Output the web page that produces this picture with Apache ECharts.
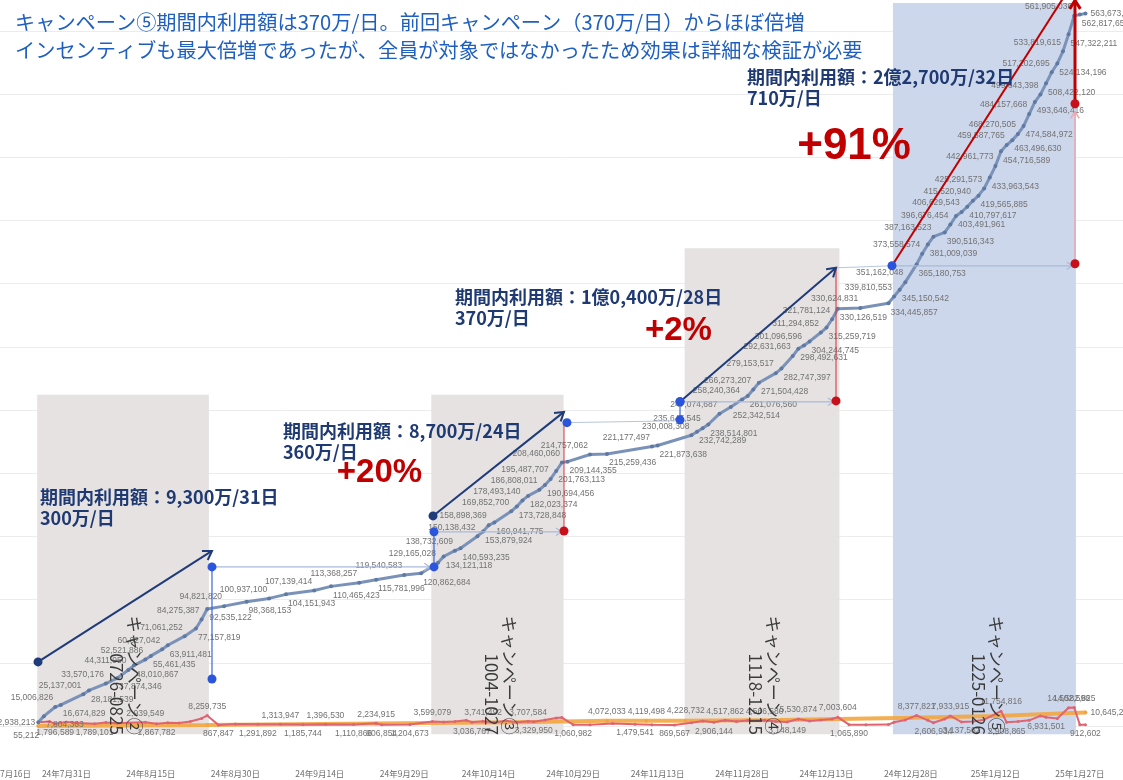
<!DOCTYPE html>
<html lang="ja">
<head>
<meta charset="utf-8">
<title>キャンペーン期間内利用額</title>
<script src="https://cdn.jsdelivr.net/npm/echarts@6/dist/echarts.min.js"></script>
<style>
html,body{margin:0;padding:0;background:#ffffff;}
#chart{width:1123px;height:780px;}
</style>
</head>
<body>
<div id="chart"></div>
<script>
// ================= DATA =================
const axisStartDate = '2024-07-16';
const axisTickDays = 15;
const axisEndDay = 210;

const titleLines = [
  'キャンペーン⑤期間内利用額は370万/日。前回キャンペーン（370万/日）からほぼ倍増',
  'インセンティブも最大倍増であったが、全員が対象ではなかったため効果は詳細な検証が必要'
];

// cumulative usage (labelled points)
const cumDates = [
  '2024-07-26','2024-07-27','2024-07-29','2024-07-30','2024-08-03','2024-08-04','2024-08-07','2024-08-09',
  '2024-08-11','2024-08-12','2024-08-14','2024-08-15','2024-08-17','2024-08-18','2024-08-21','2024-08-23',
  '2024-08-24','2024-08-25','2024-08-28','2024-09-01','2024-09-05','2024-09-08','2024-09-13','2024-09-16',
  '2024-09-21','2024-09-24','2024-09-29','2024-10-02','2024-10-05','2024-10-06','2024-10-08','2024-10-09',
  '2024-10-12','2024-10-13','2024-10-14','2024-10-15','2024-10-18','2024-10-19','2024-10-20','2024-10-21',
  '2024-10-23','2024-10-24','2024-10-25','2024-10-26','2024-10-27','2024-10-28','2024-11-01','2024-11-04',
  '2024-11-12','2024-11-13','2024-11-19','2024-11-20','2024-11-21','2024-11-22','2024-11-24','2024-11-26',
  '2024-11-28','2024-11-29','2024-11-30','2024-12-01','2024-12-04','2024-12-05','2024-12-07','2024-12-08',
  '2024-12-09','2024-12-10','2024-12-12','2024-12-13','2024-12-14','2024-12-15','2024-12-19','2024-12-24',
  '2024-12-25','2024-12-26','2024-12-27','2024-12-29','2024-12-30','2024-12-31','2025-01-01','2025-01-03',
  '2025-01-04','2025-01-05','2025-01-06','2025-01-07','2025-01-08','2025-01-09','2025-01-10','2025-01-11',
  '2025-01-12','2025-01-13','2025-01-14','2025-01-15','2025-01-16','2025-01-17','2025-01-18','2025-01-19',
  '2025-01-20','2025-01-21','2025-01-22','2025-01-23','2025-01-24','2025-01-25','2025-01-26','2025-01-27',
  '2025-01-28'
];
const cumValues = [
  2938213, 7804363, 15006826, 16674829, 25137001, 28181539, 33570176, 37874346,
  44311950, 48010867, 52521886, 55461435, 60627042, 63911481, 71061252, 77157819,
  84275387, 92535122, 94821820, 98368153, 100937100, 104151943, 107139414, 110465423,
  113368257, 115781996, 119540583, 120862684, 129165028, 134121118, 138732609, 140593235,
  150138432, 153879924, 158898369, 160941775, 169852700, 173728848, 178493140, 182023374,
  186808011, 190694456, 195487707, 201763113, 208460060, 209144355, 214757062, 215259436,
  221177497, 221873638, 230008308, 232742289, 235647545, 238514801, 247074687, 252342514,
  258240364, 261076560, 266273207, 271504428, 279153517, 282747397, 292631663, 298492631,
  301096596, 304244745, 311294852, 315259719, 321781124, 330126519, 330624831, 334445857,
  339810553, 345150542, 351162048, 365180753, 373558574, 381009039, 387163523, 390516343,
  396676454, 403491961, 406629543, 410797617, 415520940, 419565885, 425291573, 433963543,
  442961773, 454716589, 459587765, 463496630, 468270505, 474584972, 484157668, 493646416,
  499643398, 508422120, 517202695, 524134196, 533819615, 547322211, 561905036, 562817658,
  563673712
];

// daily usage (red line)
const dailyDates = [
  '2024-07-26','2024-07-28','2024-07-29','2024-07-31','2024-08-02','2024-08-05','2024-08-07','2024-08-09',
  '2024-08-11','2024-08-14','2024-08-16','2024-08-18','2024-08-20','2024-08-22','2024-08-24','2024-08-25',
  '2024-08-27','2024-08-30','2024-09-03','2024-09-07','2024-09-11','2024-09-15','2024-09-20','2024-09-24',
  '2024-09-25','2024-09-30','2024-10-04','2024-10-06','2024-10-08','2024-10-10','2024-10-11','2024-10-13',
  '2024-10-15','2024-10-17','2024-10-19','2024-10-21','2024-10-22','2024-10-24','2024-10-26','2024-10-27',
  '2024-10-29','2024-11-01','2024-11-05','2024-11-09','2024-11-12','2024-11-16','2024-11-19','2024-11-21',
  '2024-11-23','2024-11-25','2024-11-27','2024-11-29','2024-12-02','2024-12-04','2024-12-06','2024-12-08',
  '2024-12-10','2024-12-12','2024-12-14','2024-12-15','2024-12-17','2024-12-20','2024-12-24','2024-12-25',
  '2024-12-27','2024-12-29','2024-12-31','2025-01-01','2025-01-03','2025-01-04','2025-01-06','2025-01-08',
  '2025-01-10','2025-01-13','2025-01-14','2025-01-16','2025-01-18','2025-01-20','2025-01-21','2025-01-23',
  '2025-01-25','2025-01-26','2025-01-27','2025-01-28'
];
const dailyValues = [
  2938213, 3500000, 1796589, 3200000, 2400000, 1789101, 2800000, 2200000,
  2600000, 2939549, 1867782, 2600000, 2300000, 3500000, 6000000, 8259735,
  867847, 1500000, 1291892, 1313947, 1185744, 1396530, 1110866, 2234915,
  906854, 1204673, 3599079, 3200000, 3500000, 4600000, 3036767, 3741492,
  2800000, 4200000, 3000000, 3707584, 3329950, 4800000, 6300000, 6700000,
  1060982, 900000, 2000000, 1479541, 1000000, 869567, 2500000, 4000000,
  2906144, 4517862, 3500000, 4300000, 4566580, 3600000, 3148149, 5530874,
  4000000, 4800000, 5500000, 7003604, 1065890, 900000, 1100000, 3000000,
  4800000, 8377821, 4500000, 2606934, 5500000, 7933915, 3137562, 3500000,
  5000000, 11754816, 2908865, 3500000, 4500000, 8000000, 6931501, 6000000,
  14502596, 14582825, 1000000, 912602
];
const dailyLabelDates = [
  '2024-07-29','2024-08-05','2024-08-14','2024-08-16','2024-08-25','2024-08-27','2024-09-03','2024-09-07',
  '2024-09-11','2024-09-15','2024-09-20','2024-09-24','2024-09-25','2024-09-30','2024-10-04','2024-10-11',
  '2024-10-13','2024-10-21','2024-10-22','2024-10-29','2024-11-09','2024-11-16','2024-11-23','2024-11-25',
  '2024-12-02','2024-12-06','2024-12-08','2024-12-15','2024-12-17','2024-12-29','2025-01-01','2025-01-04',
  '2025-01-06','2025-01-13','2025-01-14','2025-01-21','2025-01-25','2025-01-26','2025-01-28'
];

// orange trend line
const trendDates = ['2024-07-26','2024-08-25','2024-09-24','2024-10-19','2024-11-04','2024-11-11','2024-11-18','2024-12-05','2024-12-28','2025-01-12','2025-01-28'];
const trendValues = [55212, 800000, 2000000, 3000000, 4072033, 4119498, 4228732, 4800000, 6500000, 8000000, 10645218];
const trendLabelDates = ['2024-07-26','2024-11-04','2024-11-11','2024-11-18','2025-01-28'];

// campaigns
const campaignNames = ['キャンペーン②','キャンペーン③','キャンペーン④','キャンペーン⑤'];
const campaignPeriods = ['0726-0825','1004-1027','1118-1215','1225-0126'];
const campaignStart = ['2024-07-26','2024-10-04','2024-11-18','2024-12-25'];
const campaignEnd = ['2024-08-25','2024-10-27','2024-12-15','2025-01-26'];
const campaignBoxTopM = [262, 262, 378, 572];   // shaded box height (million yen)
const campaignSummary = [
  '期間内利用額：9,300万/31日\n300万/日',
  '期間内利用額：8,700万/24日\n360万/日',
  '期間内利用額：1億0,400万/28日\n370万/日',
  '期間内利用額：2億2,700万/32日\n710万/日'
];
const growthLabels = ['+20%', '+2%', '+91%'];

// annotation geometry in data units: [day index from axis start, million yen]
const summaryAnchors = [[10.3,189.6],[53.46,241.8],[84.01,347.9],[135.88,522.0]];
const growthLabelAnchors = [[70.6,200.3],[123.7,312.6],[154.9,458.3]];
const growthFrom = [[9.95,50.7],[80.11,166.2],[123.98,256.5],[161.63,364.1]];
const growthTo   = [[40.85,138.5],[103.37,248.5],[151.69,362.5],[194.14,590.5]];
const jumpLines = [[[40.85,125.85],[40.85,37.2]],[[80.28,153.6],[80.28,125.85]],[[123.98,256.5],[123.98,242.2]]];
const baseArrows = [[[40.85,125.85],[79.6,125.85]],[[80.46,153.6],[103.0,153.6]],[[123.98,256.5],[151.3,256.5]],[[161.63,364.1],[193.7,364.1]]];
const linkLines = [[[103.9,240.0],[123.98,241.5]],[[151.69,362.5],[161.63,364.1]]];
const redRises = [[[103.37,154.3],[103.37,239.8]],[[151.69,257.2],[151.69,362.5]]];
const prevRise = [[194.14,365.7],[194.14,486.0]];
const extraRise = [[194.14,492.3],[194.14,574.0]];
const redDots = [[103.37,154.3],[151.69,257.2],[194.14,365.7],[194.14,492.3]];
const blueDots = [[40.85,125.85],[40.85,37.2],[80.28,153.6],[80.28,125.85],[103.9,240.0],[123.98,242.2],[123.98,256.5],[161.63,364.1]];

// ================= HELPERS =================
const DAY = 86400000;
const base = (function(){const p=axisStartDate.split('-').map(Number);return Date.UTC(p[0],p[1]-1,p[2]);})();
function dayOf(s){const p=s.split('-').map(Number);return Math.round((Date.UTC(p[0],p[1]-1,p[2])-base)/DAY);}
function fmtDate(d){const t=new Date(base+d*DAY);return (t.getUTCFullYear()%100)+'年'+(t.getUTCMonth()+1)+'月'+t.getUTCDate()+'日';}
function fmtNum(v){return Math.round(v).toLocaleString('en-US');}

const LABEL_FONT = 'Liberation Sans';
const labelBase = {fontSize:8.5, color:'#727272', fontFamily:LABEL_FONT};

const cumData = cumDates.map(function(s,i){
  let lab;
  if(i===0) lab={show:true, position:'left', offset:[4,0]};
  else if(i===cumDates.length-1) lab={show:true, position:'right', offset:[-2,0]};
  else if(i%2===0) lab={show:true, position:'left', offset:[5,-9]};
  else lab={show:true, position:'right', offset:[-5,9]};
  return {value:[dayOf(s), cumValues[i]], label:Object.assign({}, labelBase, lab, {formatter: fmtNum(cumValues[i])})};
});

const dailyData = dailyDates.map(function(s,i){
  const item = {value:[dayOf(s), dailyValues[i]]};
  if(dailyLabelDates.indexOf(s)>=0){
    const prev = i>0 ? dailyValues[i-1] : null, next = i<dailyValues.length-1 ? dailyValues[i+1] : null;
    let ref;
    if(prev===null) ref=next; else if(next===null) ref=prev; else ref=(prev+next)/2;
    const up = dailyValues[i] > ref;
    item.label = Object.assign({}, labelBase, {show:true, position: up?'top':'bottom', distance:3, formatter: fmtNum(dailyValues[i])});
  }
  return item;
});

const trendData = trendDates.map(function(s,i){
  const item = {value:[dayOf(s), trendValues[i]]};
  if(trendLabelDates.indexOf(s)>=0){
    let pos='top', off=[0,0];
    if(i===0){ pos='bottom'; off=[-12,0]; } else if(i===trendDates.length-1) pos='right';
    item.label = Object.assign({}, labelBase, {show:true, position:pos, offset:off, distance:3, formatter: fmtNum(trendValues[i])});
  }
  return item;
});

const shadeData = campaignStart.map(function(s,i){
  return [
    {xAxis: dayOf(s)-0.2, yAxis: -6.5e6, itemStyle:{color: i===3 ? '#cdd7eb' : '#e6e2e2'}},
    {xAxis: dayOf(campaignEnd[i])+0.3, yAxis: campaignBoxTopM[i]*1e6}
  ];
});

// ================= CHART =================
const chart = echarts.init(document.getElementById('chart'));
chart.setOption({
  animation:false,
  backgroundColor:'#ffffff',
  title:{
    text: titleLines.join('\n'), left:10, top:3,
    textStyle:{fontSize:20.2, fontWeight:'normal', color:'#1f5fbf', fontFamily:'Noto Sans CJK JP', lineHeight:28}
  },
  grid:{left:-18, right:-41.3, top:-32.4, bottom:-9.2, containLabel:false, outerBoundsMode:'none'},
  xAxis:{
    type:'value', min:0, max:axisEndDay, interval:axisTickDays, position:'bottom',
    axisLine:{show:false, onZero:false}, axisTick:{show:false}, splitLine:{show:false},
    axisLabel:{show:true, inside:true, formatter:function(v){return fmtDate(v);}, fontSize:8.5, color:'#6e6e6e', margin:11,
      alignMinLabel:'left', fontFamily:'Noto Sans CJK JP', hideOverlap:false}
  },
  yAxis:{
    type:'value', min:-50e6, max:600e6, interval:50e6,
    axisLine:{show:false}, axisTick:{show:false}, axisLabel:{show:false},
    splitLine:{lineStyle:{color:'#ececec', width:1}}
  },
  series:[
    {type:'line', data:[], z:1, silent:true,
      markArea:{silent:true, label:{show:false}, data:shadeData}},
    {type:'line', name:'trend', data:trendData, z:3, symbol:'circle', symbolSize:4, showSymbol:true,
      lineStyle:{color:'#f3a640', width:4, opacity:0.9}, itemStyle:{color:'#f3a640'},
      label:Object.assign({show:false}, labelBase), emphasis:{disabled:true}},
    {type:'line', name:'daily', data:dailyData, z:4, symbol:'circle', symbolSize:3,
      lineStyle:{color:'#e06470', width:2}, itemStyle:{color:'#e06470'},
      label:Object.assign({show:false}, labelBase), emphasis:{disabled:true}},
    {type:'line', name:'cumulative', data:cumData, z:5, symbol:'circle', symbolSize:4,
      lineStyle:{color:'#7a92b8', width:3}, itemStyle:{color:'#5f79a3'},
      label:Object.assign({show:false}, labelBase), emphasis:{disabled:true}}
  ]
});

// ================= ANNOTATIONS =================
function P(pt){return chart.convertToPixel({xAxisIndex:0, yAxisIndex:0}, [pt[0], pt[1]*1e6]);}
const els = [];
function addLine(a,b,color,w,z){els.push({type:'line', silent:true, z:z||50, shape:{x1:a[0],y1:a[1],x2:b[0],y2:b[1]}, style:{stroke:color, lineWidth:w}});}
function addHead(a,b,color,w,size,z){
  const ang=Math.atan2(b[1]-a[1], b[0]-a[0]);
  const a1=ang+Math.PI*0.82, a2=ang-Math.PI*0.82;
  els.push({type:'polyline', silent:true, z:z||50, shape:{points:[[b[0]+size*Math.cos(a1), b[1]+size*Math.sin(a1)], b, [b[0]+size*Math.cos(a2), b[1]+size*Math.sin(a2)]]},
    style:{stroke:color, fill:null, lineWidth:w}});
}
function addArrow(p,q,color,w,size,z){const a=P(p), b=P(q); addLine(a,b,color,w,z); addHead(a,b,color,w,size,z);}
function addDot(p,color,r){const a=P(p); els.push({type:'circle', silent:true, z:60, shape:{cx:a[0], cy:a[1], r:r}, style:{fill:color}});}
function addText(p,str,font,color,align,valign,lh,rot){
  const a=P(p);
  els.push({type:'text', silent:true, z:70, x:a[0], y:a[1], rotation:rot||0,
    style:{text:str, font:font, fill:color, textAlign:align, textVerticalAlign:valign, lineHeight:lh}});
}

baseArrows.forEach(function(s){addArrow(s[0], s[1], '#a9bad8', 1.2, 7, 45);});
linkLines.forEach(function(s){addLine(P(s[0]), P(s[1]), '#b8c6e0', 1, 45);});
jumpLines.forEach(function(s){addLine(P(s[0]), P(s[1]), '#3a64e0', 1.2, 46);});
redRises.forEach(function(s){addLine(P(s[0]), P(s[1]), '#d0303a', 1, 46);});
addArrow(prevRise[0], prevRise[1], '#eaa7ae', 1.5, 8, 46);
addArrow(extraRise[0], extraRise[1], '#c00000', 3, 10, 47);
for(let i=0;i<3;i++){ addArrow(growthFrom[i], growthTo[i], '#1f3b7a', 2, 10, 48); addDot(growthFrom[i], '#1f3b7a', 4.5); }
addArrow(growthFrom[3], growthTo[3], '#c00000', 2, 10, 48);
blueDots.forEach(function(p){addDot(p, '#2a55dc', 4.5);});
redDots.forEach(function(p){addDot(p, '#c8101a', 4.5);});

summaryAnchors.forEach(function(p,i){
  addText(p, campaignSummary[i], 'bold 18px "Noto Sans CJK JP"', '#1f3a73', 'left', 'top', 21);
});
growthLabelAnchors.forEach(function(p,i){
  addText(p, growthLabels[i], (i===2?'bold 44px ':'bold 33px ')+'"Liberation Sans"', '#c00000', 'center', 'middle', 40);
});
campaignStart.forEach(function(s,i){
  const mid=(dayOf(s)+dayOf(campaignEnd[i]))/2 + 0.5;
  addText([mid, -7], campaignNames[i]+'\n'+campaignPeriods[i], '17px "Noto Sans CJK JP"', '#3a3a3a', 'right', 'middle', 18, -Math.PI/2);
});

chart.setOption({graphic:{elements:els}});
</script>
</body>
</html>
